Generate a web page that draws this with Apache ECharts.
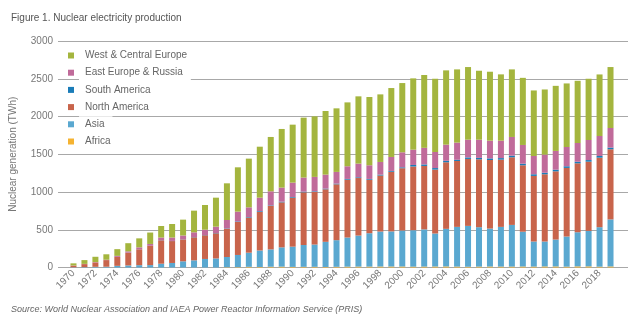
<!DOCTYPE html>
<html>
<head>
<meta charset="utf-8">
<script src="https://cdn.jsdelivr.net/npm/echarts@6/dist/echarts.min.js"></script>
<style>
  html, body { margin: 0; padding: 0; background: #fff; }
  #chart { width: 630px; height: 323px; }
</style>
</head>
<body>
<div id="chart"></div>
<script>
// Nuclear electricity production by region, TWh per year
const years = [1970, 1971, 1972, 1973, 1974, 1975, 1976, 1977, 1978, 1979,
  1980, 1981, 1982, 1983, 1984, 1985, 1986, 1987, 1988, 1989,
  1990, 1991, 1992, 1993, 1994, 1995, 1996, 1997, 1998, 1999,
  2000, 2001, 2002, 2003, 2004, 2005, 2006, 2007, 2008, 2009,
  2010, 2011, 2012, 2013, 2014, 2015, 2016, 2017, 2018, 2019];

const tickYears = [1970, 1972, 1974, 1976, 1978, 1980, 1982, 1984, 1986, 1988,
  1990, 1992, 1994, 1996, 1998, 2000, 2002, 2004, 2006, 2008,
  2010, 2012, 2014, 2016, 2018];

const yTicks = [0, 500, 1000, 1500, 2000, 2500, 3000];

const africa = [0, 0, 0, 0, 0, 0, 0, 0, 0, 0,
  0, 0, 0, 0, 4, 5, 9, 7, 10, 11,
  8, 9, 9, 7, 9, 11, 12, 12, 13, 13,
  13, 11, 12, 13, 14, 12, 10, 12, 13, 12,
  12, 13, 12, 14, 14, 11, 15, 15, 11, 14];

const asia = [3, 5, 9, 10, 22, 27, 31, 32, 50, 60,
  82, 95, 113, 120, 135, 161, 187, 218, 230, 256,
  268, 289, 295, 333, 353, 386, 411, 442, 463, 465,
  477, 483, 493, 437, 498, 526, 541, 522, 503, 526,
  552, 461, 332, 330, 356, 399, 452, 470, 523, 623];

const northAmerica = [22, 40, 58, 88, 118, 168, 210, 255, 310, 290,
  290, 305, 314, 333, 375, 438, 466, 511, 576, 596,
  649, 698, 698, 696, 740, 766, 762, 709, 742, 790,
  825, 844, 840, 847, 882, 873, 887, 899, 908, 891,
  896, 880, 869, 891, 904, 909, 913, 917, 921, 929];

const southAmerica = [0, 0, 0, 0, 1, 1, 1, 1, 2, 2,
  2, 3, 3, 4, 5, 7, 7, 10, 7, 9,
  9, 9, 8, 9, 9, 10, 10, 10, 12, 11,
  12, 20, 20, 20, 19, 16, 20, 19, 21, 20,
  21, 21, 22, 20, 21, 22, 21, 21, 22, 22];

const eastEuropeRussia = [2, 3, 5, 5, 13, 18, 25, 24, 35, 45,
  50, 63, 71, 84, 110, 129, 128, 179, 186, 186,
  190, 186, 190, 185, 155, 168, 181, 181, 168, 185,
  199, 203, 220, 213, 214, 227, 235, 241, 235, 231,
  248, 248, 242, 240, 249, 255, 248, 266, 265, 260];

const westCentralEurope = [28, 50, 70, 72, 89, 108, 119, 151, 153, 179,
  210, 287, 327, 384, 486, 587, 645, 675, 720, 777,
  768, 794, 802, 843, 842, 846, 891, 904, 895, 913,
  917, 944, 965, 970, 984, 970, 962, 913, 913, 878,
  895, 889, 868, 863, 862, 842, 824, 811, 815, 807];

// Stack order, bottom to top
const regions = [
  { name: 'Africa', values: africa, color: '#f5b331' },
  { name: 'Asia', values: asia, color: '#5aa8d0' },
  { name: 'North America', values: northAmerica, color: '#c8644b' },
  { name: 'South America', values: southAmerica, color: '#1a7cb8' },
  { name: 'East Europe & Russia', values: eastEuropeRussia, color: '#c06b9a' },
  { name: 'West & Central Europe', values: westCentralEurope, color: '#a4b53e' }
];

const FONT = '"Liberation Sans", Arial, Helvetica, sans-serif';
const Y_MIN = yTicks[0];
const Y_MAX = yTicks[yTicks.length - 1];
const chart = echarts.init(document.getElementById('chart'), null, { renderer: 'canvas' });

chart.setOption({
  animation: false,
  backgroundColor: '#fff',
  textStyle: { fontFamily: FONT },
  title: [
    {
      text: 'Figure 1. Nuclear electricity production',
      left: 6, top: 8,
      textStyle: { fontSize: 10, fontWeight: 'normal', color: '#555', fontFamily: FONT }
    },
    {
      text: 'Source: World Nuclear Association and IAEA Power Reactor Information Service (PRIS)',
      left: 6, top: 300,
      textStyle: { fontSize: 9, fontStyle: 'italic', fontWeight: 'normal', color: '#666', fontFamily: FONT }
    }
  ],
  legend: {
    orient: 'vertical',
    left: 68, top: 47.5,
    padding: 0,
    itemWidth: 6, itemHeight: 6,
    itemGap: 1.2,
    icon: 'rect',
    data: regions.map(r => r.name).reverse(),
    textStyle: {
      fontSize: 10, color: '#666', fontFamily: FONT,
      lineHeight: 12,
      backgroundColor: '#fff',
      padding: [2, 8, 2, 6]
    }
  },
  // grid 0 carries the value scale and its gridlines, grid 1 the bars
  grid: [
    { left: 55, right: 2, top: 41, bottom: 55.5 },
    { left: 68, right: 14, top: 41, bottom: 55.5 }
  ],
  xAxis: [
    { type: 'value', gridIndex: 0, show: false, min: 0, max: 1 },
    {
      type: 'category',
      gridIndex: 1,
      data: years,
      boundaryGap: true,
      axisLine: { show: false },
      axisTick: { show: false },
      axisLabel: {
        interval: 0,
        rotate: 45,
        fontSize: 10,
        color: '#777',
        margin: 4,
        fontFamily: FONT,
        formatter: v => (tickYears.includes(Number(v)) ? String(v) : '')
      }
    }
  ],
  yAxis: [
    {
      type: 'value',
      gridIndex: 0,
      min: Y_MIN,
      max: Y_MAX,
      interval: 500,
      name: 'Nuclear generation (TWh)',
      nameLocation: 'middle',
      nameGap: 40,
      nameTextStyle: { fontSize: 10, color: '#777', fontFamily: FONT },
      axisLine: { show: false },
      axisTick: { show: false },
      axisLabel: { fontSize: 10, color: '#777', margin: 5, fontFamily: FONT, formatter: v => String(v) },
      splitLine: { lineStyle: { color: '#a8a8a8', width: 1 } }
    },
    {
      type: 'value',
      gridIndex: 1,
      min: Y_MIN,
      max: Y_MAX,
      interval: 500,
      show: false,
      splitLine: { show: false }
    }
  ],
  series: regions.map(r => ({
    name: r.name,
    type: 'bar',
    stack: 'total',
    xAxisIndex: 1,
    yAxisIndex: 1,
    barWidth: 6,
    itemStyle: { color: r.color },
    emphasis: { disabled: true },
    data: r.values
  }))
});
</script>
</body>
</html>
